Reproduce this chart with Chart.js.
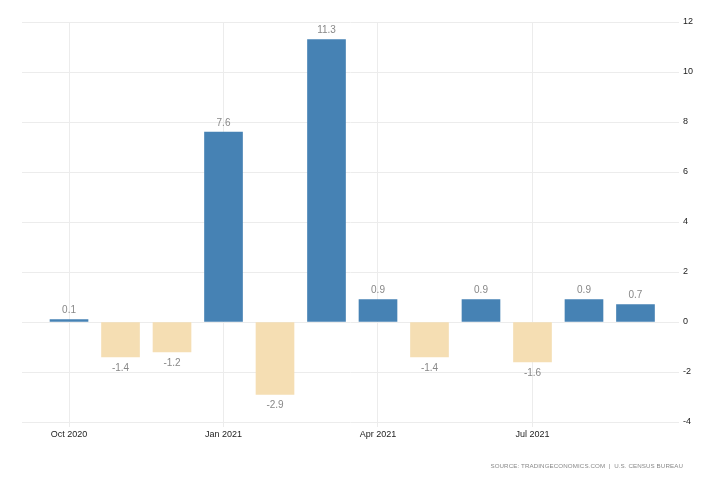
<!DOCTYPE html>
<html>
<head>
<meta charset="utf-8">
<script src="https://cdn.jsdelivr.net/npm/chart.js@4.4.0/dist/chart.umd.min.js"></script>
<style>
  html, body { margin: 0; padding: 0; background: #fff; }
  #wrap { position: relative; width: 728px; height: 485px; }
  #source { position: absolute; right: 45px; top: 462px; font: 6.2px "Liberation Sans", Arial, sans-serif; color: #888; letter-spacing: 0.1px; }
</style>
</head>
<body>
<div id="wrap">
  <canvas id="myChart" width="728" height="485"></canvas>
  <div id="source">SOURCE: TRADINGECONOMICS.COM&nbsp; | &nbsp;U.S. CENSUS BUREAU</div>
</div>
<script>
var months = ['Oct 2020', 'Nov 2020', 'Dec 2020', 'Jan 2021', 'Feb 2021', 'Mar 2021',
              'Apr 2021', 'May 2021', 'Jun 2021', 'Jul 2021', 'Aug 2021', 'Sep 2021'];
var values = [0.1, -1.4, -1.2, 7.6, -2.9, 11.3, 0.9, -1.4, 0.9, -1.6, 0.9, 0.7];
var xTickIdx = [0, 3, 6, 9];
var yTicks = [-4, -2, 0, 2, 4, 6, 8, 10, 12];

var points = values.map(function (v, i) { return { x: i, y: v }; });

var valueLabels = {
  id: 'valueLabels',
  afterDatasetsDraw: function (chart) {
    var ctx = chart.ctx;
    var meta = chart.getDatasetMeta(0);
    ctx.save();
    ctx.font = '10px "Liberation Sans", Arial, sans-serif';
    ctx.fillStyle = '#888';
    ctx.textAlign = 'center';
    ctx.textBaseline = 'middle';
    meta.data.forEach(function (bar, i) {
      var v = values[i];
      var y = v >= 0 ? bar.y - 9 : bar.y + 11;
      ctx.fillText(v.toFixed(1), bar.x, y);
    });
    ctx.restore();
  }
};

var ctx = document.getElementById('myChart').getContext('2d');
var myChart = new Chart(ctx, {
  type: 'bar',
  data: {
    datasets: [{
      data: points,
      backgroundColor: values.map(function (v) { return v >= 0 ? '#4682b4' : '#f5deb3'; }),
      barThickness: 38
    }]
  },
  plugins: [valueLabels],
  options: {
    responsive: false,
    animation: false,
    layout: { padding: { left: 22, top: 22, right: 0, bottom: 0 } },
    plugins: { legend: { display: false }, tooltip: { enabled: false } },
    scales: {
      x: {
        type: 'linear',
        offset: false,
        min: -0.913,
        max: 11.845,
        afterBuildTicks: function (scale) {
          scale.ticks = xTickIdx.map(function (i) { return { value: i }; });
        },
        afterFit: function (scale) { scale.height = 63; },
        ticks: {
          autoSkip: false,
          maxRotation: 0,
          padding: 2,
          color: '#222',
          font: { family: '"Liberation Sans", Arial, sans-serif', size: 9 },
          callback: function (v) { return months[v]; }
        },
        grid: { color: '#ececec', tickLength: 5, offset: false },
        border: { display: false }
      },
      y: {
        position: 'right',
        min: -4,
        max: 12,
        afterBuildTicks: function (scale) {
          scale.ticks = yTicks.map(function (v) { return { value: v }; });
        },
        afterFit: function (scale) { scale.width = 49; },
        ticks: {
          padding: 4,
          color: '#222',
          font: { family: '"Liberation Sans", Arial, sans-serif', size: 9 }
        },
        grid: { color: '#ececec', drawTicks: false },
        border: { display: false }
      }
    }
  }
});
</script>
</body>
</html>
